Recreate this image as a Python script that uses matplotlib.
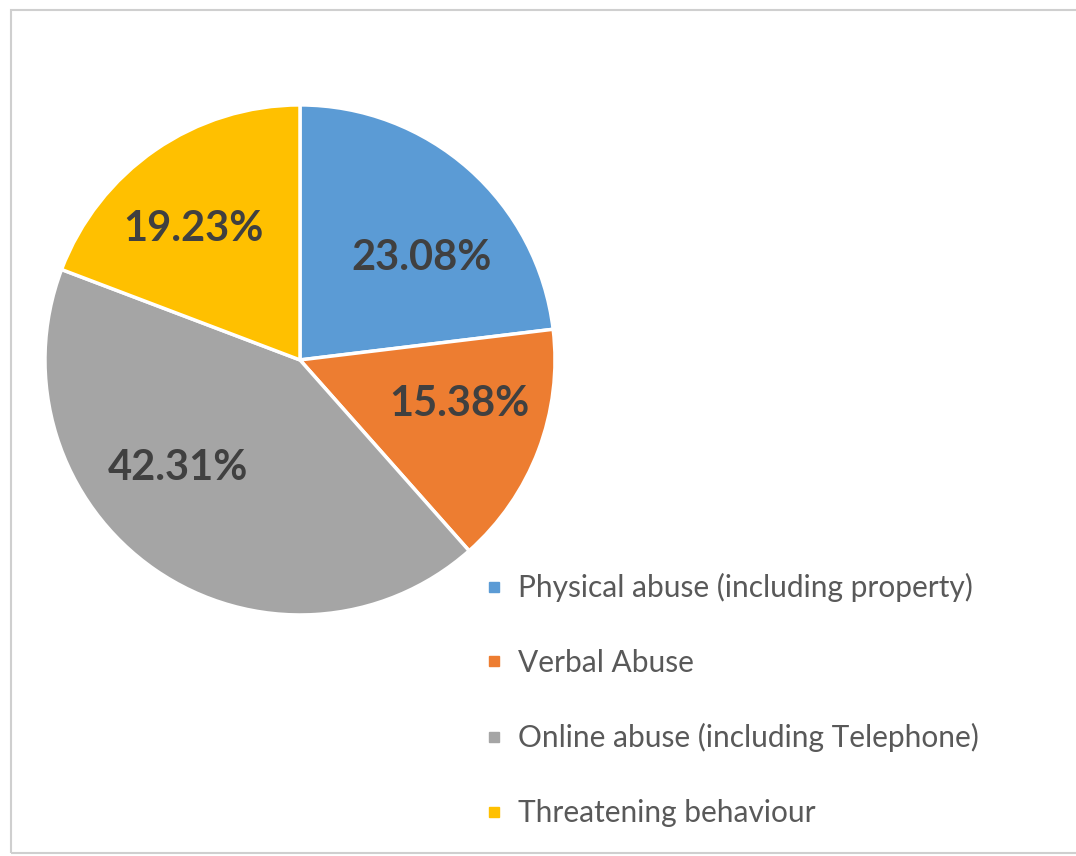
import numpy as np
import matplotlib.pyplot as plt
from matplotlib.lines import Line2D
from matplotlib.patches import Rectangle

# Data
categories = ["Physical abuse (including property)", "Verbal Abuse",
              "Online abuse (including Telephone)", "Threatening behaviour"]
shares = [23.08, 15.38, 42.31, 19.23]
colors = ["#5B9BD5", "#ED7D31", "#A5A5A5", "#FFC000"]

# label placement (Excel best fit): angle shift from slice middle (deg), radius fraction
lab_shift = [-8.5, 5.5, -14.0, 4.5]
lab_rad = [0.62, 0.65, 0.64, 0.66]

fig = plt.figure(figsize=(10.76, 8.56), dpi=100)
fig.patch.set_facecolor("white")

# chart frame
fig.patches.append(Rectangle((0.010, 0.004), 1.0, 0.984, transform=fig.transFigure,
                             fill=False, edgecolor="#cfcfcf", lw=1.5))

ax = fig.add_axes([0.0418, 0.2815, 0.474, 0.596])
wedges, _ = ax.pie(shares, colors=colors, startangle=90, counterclock=False,
                   wedgeprops=dict(edgecolor="white", linewidth=2.5))
ax.set_xlim(-1.0, 1.0)
ax.set_ylim(-1.0, 1.0)
ax.set_aspect("equal")

for w, v, ds, r in zip(wedges, shares, lab_shift, lab_rad):
    mid = np.deg2rad((w.theta1 + w.theta2) / 2 + ds)
    ax.text(r * np.cos(mid), r * np.sin(mid), f"{v:.2f}%", ha="center", va="center",
            fontsize=30, fontweight="bold", color="#404040", family="Lato")

handles = [Line2D([], [], marker="s", ls="none", color=c, markersize=7.5) for c in colors]
leg = fig.legend(handles, categories, loc="upper left", bbox_to_anchor=(0.4255, 0.362),
                 frameon=False, handlelength=0.6, handletextpad=0.5,
                 labelspacing=1.56, prop=dict(family="Lato", size=21.5))
for t in leg.get_texts():
    t.set_color("#595959")

fig.savefig("out.png", dpi=100)
